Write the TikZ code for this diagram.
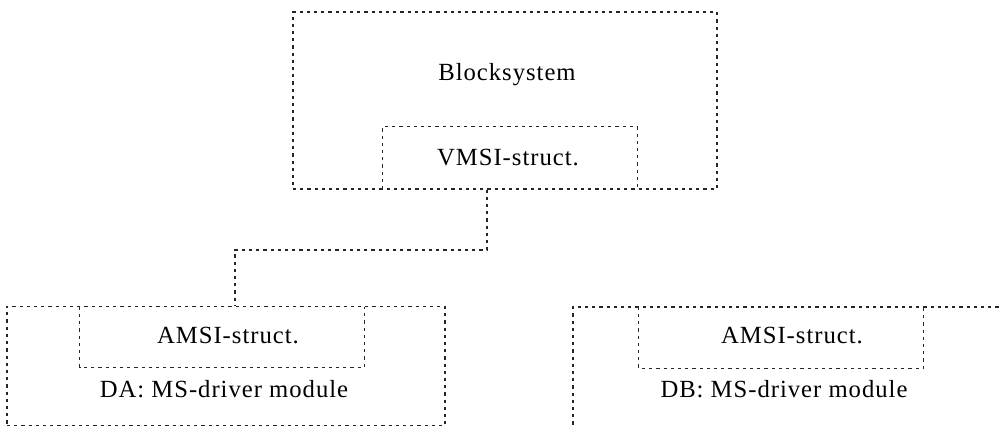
\documentclass[tikz,border=0pt]{standalone}
\usepackage{fontspec}
\setmainfont{Liberation Serif}[LetterSpace=4]
\begin{document}
\begin{tikzpicture}[x=0.75pt,y=-0.75pt,
  dotbox/.style={draw=black!85, line width=0.95pt, dash pattern=on 2.4pt off 3pt, inner sep=0pt},
  innerbox/.style={inner sep=0pt},
  conn/.style={draw=black!85, line width=0.95pt, dash pattern=on 2.4pt off 3pt},
  lbl/.style={anchor=base, inner sep=0pt, font=\fontsize{18.5}{22}\selectfont}]
\useasboundingbox (0,0) rectangle (1003,428);
\clip (0,0) rectangle (1003,428);
% boxes
\node[dotbox, minimum width=424*0.75pt, minimum height=177*0.75pt] (top) at (505,100.5) {};
\node[innerbox, minimum width=254*0.75pt, minimum height=62*0.75pt] (vmsi) at (510,158) {};
\node[dotbox, minimum width=438*0.75pt, minimum height=119*0.75pt] (da) at (226,366) {};
\node[innerbox, minimum width=284*0.75pt, minimum height=60*0.75pt] (amsia) at (222,337) {};
\node[dotbox, minimum width=438*0.75pt, minimum height=140*0.75pt] (db) at (792,377) {};
\node[innerbox, minimum width=284*0.75pt, minimum height=61*0.75pt] (amsib) at (781,337.5) {};
% inner boxes share one side with their outer box
\draw[conn] (vmsi.south west) -- (vmsi.north west) -- (vmsi.north east) -- (vmsi.south east);
\draw[conn] (amsia.north west) -- (amsia.south west) -- (amsia.south east) -- (amsia.north east);
\draw[conn] (amsib.north west) -- (amsib.south west) -- (amsib.south east) -- (amsib.north east);
% labels
\node[lbl] (tBlock) at (507,80) {Blocksystem};
\node[lbl] (tVmsi) at (508,165) {VMSI-struct.};
\node[lbl] (tAmsiA) at (228,343) {AMSI-struct.};
\node[lbl] (tDA) at (224,397) {DA: MS-driver module};
\node[lbl] (tAmsiB) at (792,343) {AMSI-struct.};
\node[lbl] (tDB) at (784,397) {DB: MS-driver module};
% connector
\coordinate (c1) at (487,250);
\coordinate (c2) at (235,250);
\draw[conn] (top.south -| c1) -- (c1) -- (c2) -- (c2 |- da.north);
\end{tikzpicture}
\end{document}
